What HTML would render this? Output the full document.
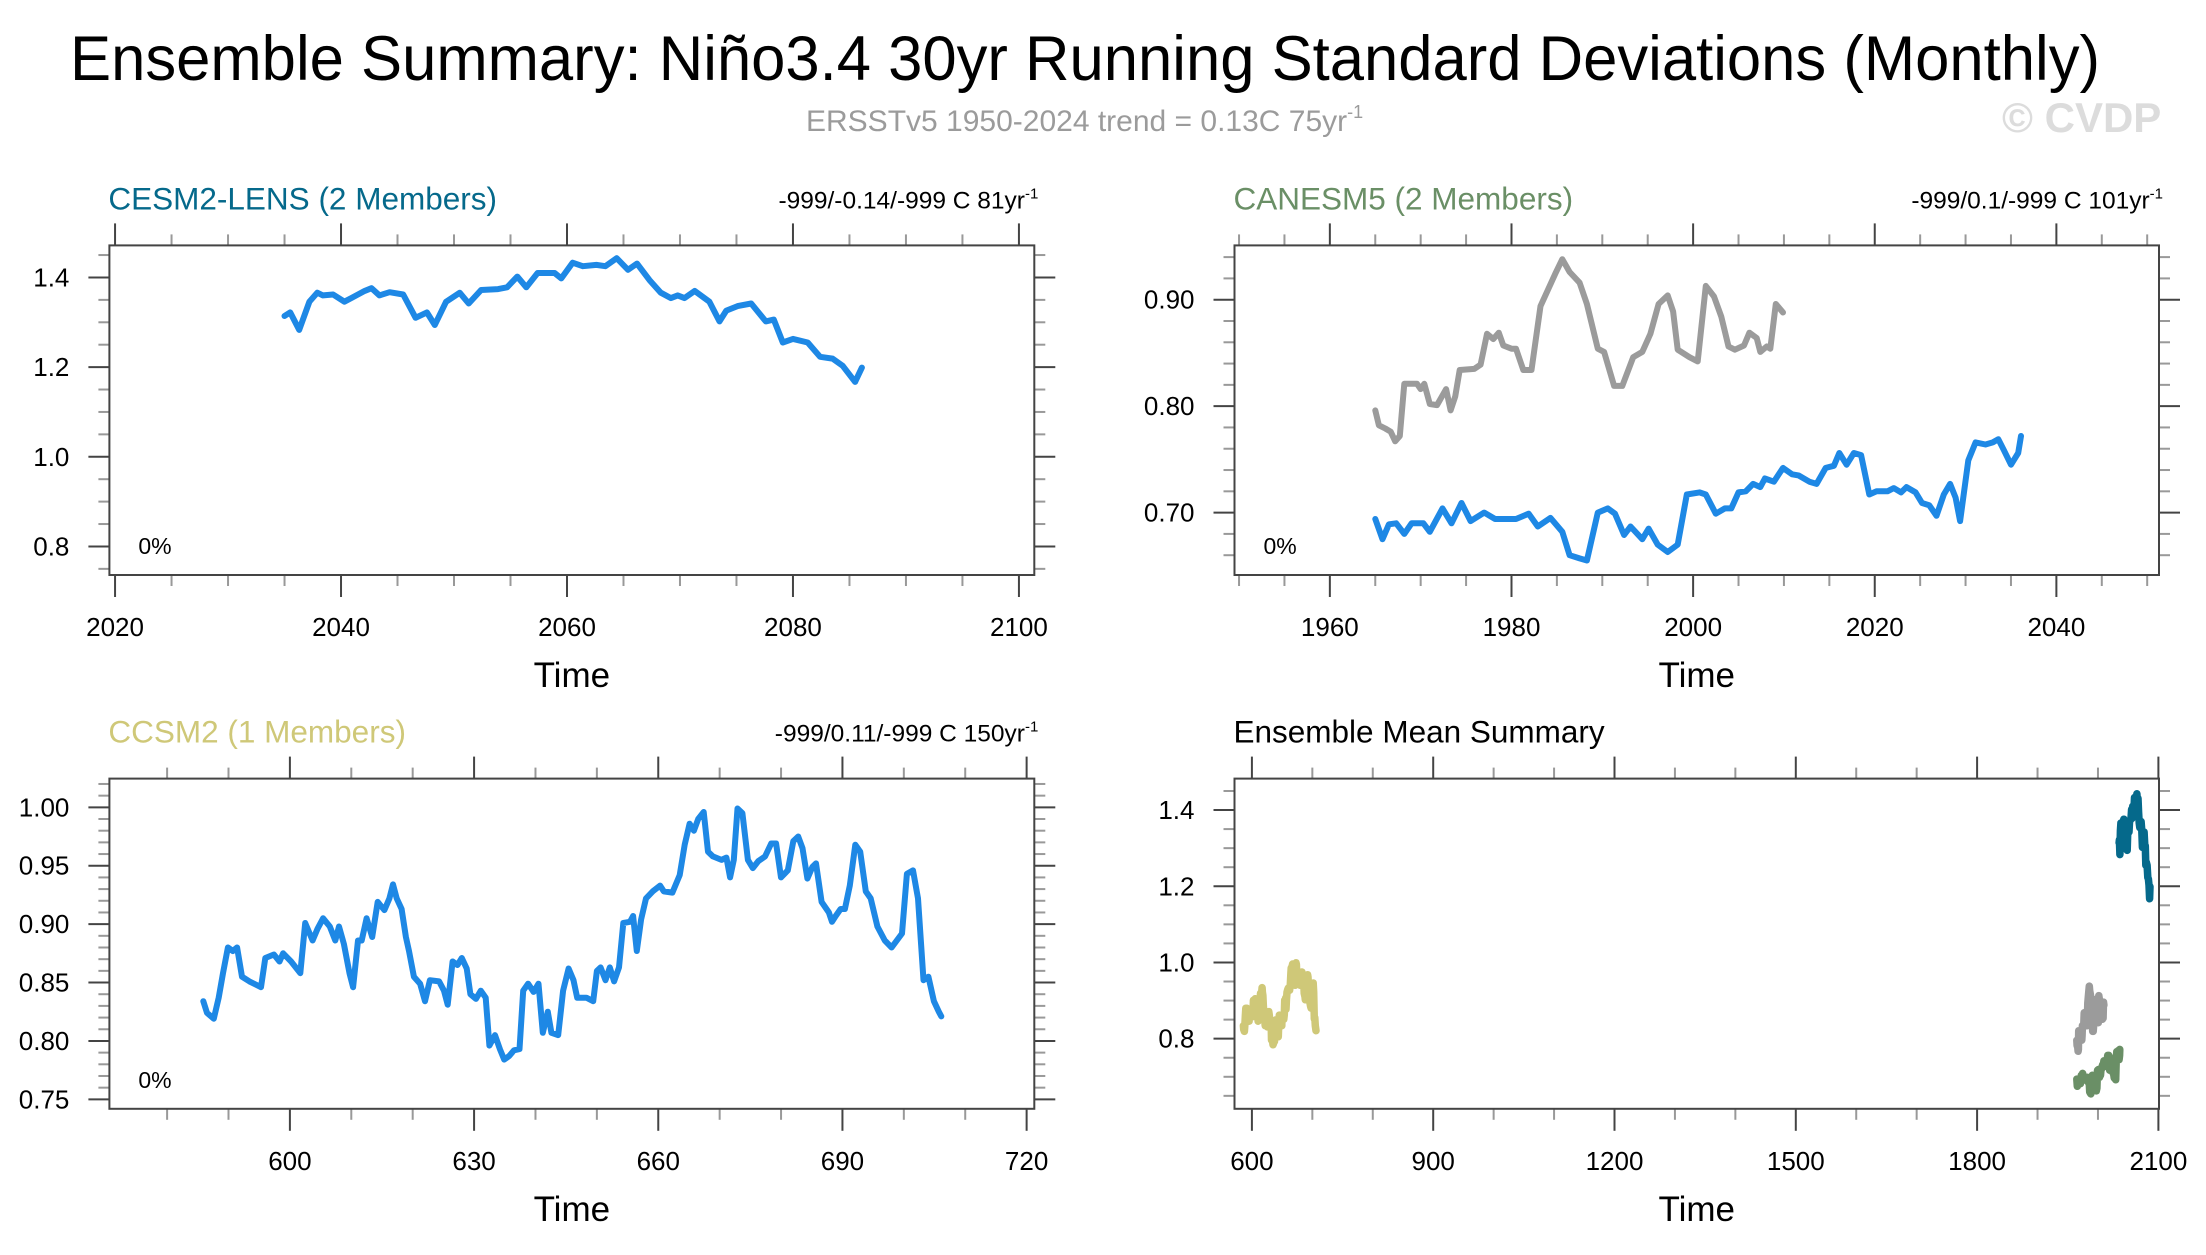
<!DOCTYPE html>
<html><head><meta charset="utf-8">
<style>
html,body{margin:0;padding:0;background:#fff;}
svg{display:block;font-family:"Liberation Sans",Arial,sans-serif;}
</style></head>
<body>
<svg id="chart" width="2206" height="1255" viewBox="0 0 2206 1255" xmlns="http://www.w3.org/2000/svg">
<text x="70" y="80" font-size="63" textLength="2030" lengthAdjust="spacingAndGlyphs" fill="#000">Ensemble Summary: Niño3.4 30yr Running Standard Deviations (Monthly)</text>
<text x="806" y="131" font-size="30" fill="#9b9b9b">ERSSTv5 1950-2024 trend = 0.13C 75yr<tspan font-size="18" dy="-13">-1</tspan></text>
<text x="2002" y="132" font-size="42" font-weight="bold" fill="#dcdcdc">© CVDP</text>
<g id="panels"></g>
</svg>
<script>
// ---- data ----
const cesmYears = [2035.0,2035.5,2036.3,2037.2,2037.9,2038.4,2039.3,2040.3,2040.9,2042.1,2042.7,2043.4,2044.3,2045.5,2046.6,2047.6,2048.3,2049.3,2050.5,2051.3,2052.4,2053.9,2054.7,2055.6,2056.4,2057.4,2058.9,2059.5,2060.5,2061.4,2062.6,2063.4,2064.4,2065.4,2066.2,2067.3,2068.3,2069.2,2069.8,2070.4,2071.3,2072.6,2073.5,2074.1,2075.1,2076.3,2077.6,2078.3,2079.1,2080.0,2081.3,2082.4,2083.5,2084.4,2085.5,2086.1];
const cesmValues = [1.314,1.322,1.283,1.346,1.366,1.36,1.362,1.346,1.354,1.37,1.376,1.36,1.367,1.362,1.31,1.322,1.294,1.346,1.366,1.342,1.372,1.374,1.378,1.402,1.378,1.41,1.41,1.398,1.433,1.425,1.428,1.425,1.443,1.417,1.431,1.394,1.366,1.354,1.36,1.354,1.37,1.346,1.302,1.326,1.336,1.342,1.302,1.306,1.255,1.263,1.255,1.223,1.219,1.203,1.167,1.199];
const obsYears = [1965.0,1965.4,1966.1,1966.7,1967.2,1967.7,1968.2,1969.6,1970.0,1970.4,1971.0,1971.8,1972.8,1973.3,1973.8,1974.3,1975.9,1976.6,1977.3,1978.0,1978.6,1979.1,1980.0,1980.5,1981.3,1982.2,1983.2,1984.0,1984.8,1985.6,1986.4,1987.5,1988.3,1989.5,1990.2,1991.3,1992.2,1993.4,1994.4,1995.3,1996.2,1997.2,1997.8,1998.3,1999.6,2000.5,2001.4,2002.3,2003.1,2003.9,2004.6,2005.6,2006.2,2007.0,2007.4,2008.1,2008.5,2009.1,2009.9];
const obsValues = [0.796,0.782,0.779,0.776,0.767,0.772,0.821,0.821,0.816,0.821,0.802,0.801,0.816,0.796,0.809,0.834,0.835,0.839,0.868,0.863,0.869,0.857,0.854,0.854,0.834,0.834,0.894,0.909,0.924,0.938,0.926,0.916,0.896,0.854,0.851,0.819,0.819,0.846,0.851,0.868,0.896,0.904,0.889,0.853,0.846,0.842,0.913,0.903,0.884,0.856,0.853,0.857,0.869,0.864,0.851,0.856,0.854,0.896,0.888];
const canYears = [1965.0,1965.8,1966.5,1967.3,1968.2,1969.0,1970.3,1971.0,1972.4,1973.4,1974.5,1975.5,1977.0,1978.2,1980.5,1981.9,1982.9,1984.3,1985.6,1986.4,1987.5,1988.3,1989.5,1990.6,1991.4,1992.4,1993.1,1994.4,1995.1,1996.1,1997.2,1998.3,1999.3,2000.7,2001.4,2002.5,2003.5,2004.2,2005.0,2005.8,2006.6,2007.4,2007.9,2008.9,2009.9,2010.9,2011.6,2012.8,2013.6,2014.6,2015.5,2016.1,2016.9,2017.7,2018.5,2019.4,2020.2,2021.4,2022.1,2022.9,2023.5,2024.5,2025.2,2026.0,2026.8,2027.6,2028.3,2028.9,2029.4,2030.3,2031.1,2032.2,2033.0,2033.6,2034.2,2035.0,2035.8,2036.1];
const canValues = [0.694,0.675,0.689,0.690,0.680,0.690,0.690,0.682,0.704,0.690,0.709,0.692,0.700,0.694,0.694,0.699,0.687,0.695,0.682,0.660,0.657,0.655,0.700,0.704,0.699,0.679,0.687,0.675,0.685,0.670,0.663,0.670,0.717,0.719,0.717,0.699,0.704,0.704,0.719,0.720,0.727,0.724,0.732,0.729,0.742,0.736,0.735,0.729,0.727,0.742,0.744,0.756,0.745,0.756,0.754,0.717,0.720,0.720,0.723,0.719,0.724,0.719,0.709,0.707,0.697,0.717,0.727,0.714,0.692,0.749,0.766,0.764,0.766,0.769,0.759,0.745,0.756,0.772];
const ccsmYears = [585.9,586.5,587.6,588.4,589.1,589.9,590.7,591.4,592.2,593.4,595.3,596.0,597.4,598.3,598.9,600.2,601.7,602.5,603.7,604.5,605.4,606.5,607.4,608.0,608.8,609.7,610.3,611.1,611.7,612.5,613.4,614.3,615.4,616.2,616.8,617.4,618.2,618.9,619.4,620.2,621.2,622.0,622.8,624.3,625.1,625.7,626.5,627.3,628.0,628.8,629.4,630.3,631.1,631.9,632.5,633.4,634.2,634.9,635.7,636.5,637.4,638.0,638.8,639.7,640.5,641.2,642.0,642.6,643.7,644.5,645.4,646.2,646.8,648.3,649.4,650.0,650.6,651.4,652.1,652.8,653.6,654.3,655.4,655.9,656.5,657.2,658.0,659.1,660.3,660.9,662.3,663.5,664.3,665.1,665.8,666.5,667.4,668.1,668.9,670.3,671.1,671.7,672.3,672.9,673.7,674.6,675.4,676.3,677.4,678.4,679.2,680.0,681.1,682.0,682.8,683.5,684.3,685.1,685.7,686.6,687.8,688.3,688.9,689.7,690.4,691.2,692.1,692.9,693.8,694.6,695.7,696.9,698.0,699.7,700.5,701.5,702.3,703.2,704.0,704.9,705.7,706.1];
const ccsmValues = [0.834,0.824,0.819,0.837,0.858,0.880,0.877,0.880,0.855,0.851,0.846,0.871,0.874,0.868,0.875,0.868,0.858,0.901,0.886,0.896,0.905,0.898,0.886,0.898,0.883,0.858,0.846,0.886,0.886,0.905,0.889,0.919,0.912,0.922,0.934,0.922,0.913,0.889,0.877,0.855,0.849,0.834,0.852,0.851,0.843,0.831,0.868,0.865,0.871,0.862,0.840,0.836,0.843,0.837,0.796,0.805,0.793,0.784,0.787,0.792,0.793,0.843,0.849,0.842,0.849,0.807,0.825,0.807,0.805,0.843,0.862,0.852,0.837,0.837,0.834,0.860,0.863,0.852,0.863,0.851,0.863,0.901,0.902,0.907,0.877,0.904,0.922,0.928,0.933,0.928,0.927,0.942,0.968,0.986,0.980,0.990,0.996,0.962,0.958,0.955,0.957,0.940,0.955,0.999,0.995,0.955,0.948,0.954,0.958,0.969,0.969,0.940,0.946,0.971,0.975,0.965,0.939,0.949,0.952,0.919,0.910,0.902,0.907,0.913,0.913,0.933,0.968,0.962,0.928,0.922,0.898,0.886,0.880,0.892,0.943,0.946,0.922,0.852,0.855,0.834,0.825,0.821];

const p1XTicks = [2020,2040,2060,2080,2100];
const p1YTicks = ["0.8","1.0","1.2","1.4"];
const p2XTicks = [1960,1980,2000,2020,2040];
const p2YTicks = ["0.70","0.80","0.90"];
const p3XTicks = [600,630,660,690,720];
const p3YTicks = ["0.75","0.80","0.85","0.90","0.95","1.00"];
const p4XTicks = [600,900,1200,1500,1800,2100];
const p4YTicks = ["0.8","1.0","1.2","1.4"];

const BLUE="#1e88e5", GRAY="#9b9b9b", TEAL="#05698b", GREEN="#6a8f66", KHAKI="#cfc878";
const NS="http://www.w3.org/2000/svg";
const root=document.getElementById('panels');
function mk(tag,attrs,parent){const e=document.createElementNS(NS,tag);for(const k in attrs)e.setAttribute(k,attrs[k]);(parent||root).appendChild(e);return e;}

const panels=[
 {name:'cesm2-lens-panel',box:[109.4,245.4,1034.3,575],xd:[2019.5,2101.36],yd:[0.7363,1.4715],xt:p1XTicks,xmin:5,yt:p1YTicks,ymin:0.05,
  title:'CESM2-LENS (2 Members)',tcol:TEAL,ann:'-999/-0.14/-999 C 81yr',pct:true,
  series:[{x:cesmYears,y:cesmValues,c:BLUE,n:'cesm2-line'}],lw:6},
 {name:'canesm5-panel',box:[1234.5,245.4,2159,575],xd:[1949.5,2051.3],yd:[0.6414,0.951],xt:p2XTicks,xmin:5,yt:p2YTicks,ymin:0.02,
  title:'CANESM5 (2 Members)',tcol:GREEN,ann:'-999/0.1/-999 C 101yr',pct:true,
  series:[{x:obsYears,y:obsValues,c:GRAY,n:'observations-line'},{x:canYears,y:canValues,c:BLUE,n:'canesm5-line'}],lw:6},
 {name:'ccsm2-panel',box:[109.4,778.6,1034.3,1108.8],xd:[570.6,721.25],yd:[0.7419,1.0246],xt:p3XTicks,xmin:10,yt:p3YTicks,ymin:0.01,
  title:'CCSM2 (1 Members)',tcol:KHAKI,ann:'-999/0.11/-999 C 150yr',pct:true,
  series:[{x:ccsmYears,y:ccsmValues,c:BLUE,n:'ccsm2-line'}],lw:6},
 {name:'ensemble-mean-panel',box:[1234.5,778.6,2159,1108.8],xd:[571.2,2101],yd:[0.616,1.4825],xt:p4XTicks,xmin:100,yt:p4YTicks,ymin:0.05,
  title:'Ensemble Mean Summary',tcol:'#000',ann:null,pct:false,
  series:[{x:ccsmYears,y:ccsmValues,c:KHAKI,n:'ccsm2-mean-line'},{x:obsYears,y:obsValues,c:GRAY,n:'observations-mean-line'},{x:canYears,y:canValues,c:GREEN,n:'canesm5-mean-line'},{x:cesmYears,y:cesmValues,c:TEAL,n:'cesm2-mean-line'}],lw:7.5}
];

panels.forEach(p=>{
  const [L,T,R,B]=p.box;
  const g=mk('g',{});
  
  
  const sx=v=>L+(v-p.xd[0])/(p.xd[1]-p.xd[0])*(R-L);
  const sy=v=>B-(v-p.yd[0])/(p.yd[1]-p.yd[0])*(B-T);
  const xs=Math.ceil(p.xd[0]/p.xmin-1e-6);
  for(let k=xs;k*p.xmin<=p.xd[1]+1e-6;k++){
    const v=k*p.xmin, X=sx(v);
    const maj=p.xt.some(t=>Math.abs(t-v)<1e-6);
    const len=maj?22:11;
    const col=maj?'#444':'#999';
    const t1=mk('line',{x1:X,x2:X,y1:T,y2:T-len,stroke:col,'stroke-width':2},g);
    
    
    const t2=mk('line',{x1:X,x2:X,y1:B,y2:B+len,stroke:col,'stroke-width':2},g);
    
    
  }
  const ys=Math.ceil(p.yd[0]/p.ymin-1e-6);
  for(let k=ys;k*p.ymin<=p.yd[1]+1e-6;k++){
    const v=k*p.ymin, Y=sy(v);
    const maj=p.yt.some(t=>Math.abs(parseFloat(t)-v)<1e-6);
    const len=maj?21:11;
    const col=maj?'#444':'#999';
    const t1=mk('line',{x1:L,x2:L-len,y1:Y,y2:Y,stroke:col,'stroke-width':2},g);
    
    
    const t2=mk('line',{x1:R,x2:R+len,y1:Y,y2:Y,stroke:col,'stroke-width':2},g);
    
    
  }
  p.xt.forEach(t=>{
    const tx=mk('text',{x:sx(t),y:B+61,'font-size':26,'text-anchor':'middle',fill:'#000'},g);
    
    
    tx.textContent=t;
  });
  p.yt.forEach(t=>{
    const tx=mk('text',{x:L-40,y:sy(parseFloat(t))+9,'font-size':26,'text-anchor':'end',fill:'#000'},g);
    
    
    tx.textContent=t;
  });
  const clipId='clip-'+p.name;
  const cp=mk('clipPath',{id:clipId},g);
  mk('rect',{x:L,y:T,width:R-L,height:B-T},cp);
  const lg=mk('g',{'clip-path':'url(#'+clipId+')'},g);
  p.series.forEach(s=>{
    const d=s.x.map((x,i)=>(i?'L':'M')+sx(x).toFixed(1)+','+sy(s.y[i]).toFixed(1)).join('');
    const pa=mk('path',{d:d,fill:'none',stroke:s.c,'stroke-width':p.lw,'stroke-linejoin':'round','stroke-linecap':'round'},lg);
    
    
  });
  const frame=mk('rect',{x:L,y:T,width:R-L,height:B-T,fill:'none',stroke:'#444','stroke-width':2},g);
  
  
  const tt=mk('text',{x:L-1,y:T-36,'font-size':31.5,fill:p.tcol},g);
  
  
  tt.textContent=p.title;
  if(p.ann){
    const an=mk('text',{x:R+4,y:T-37,'font-size':24.5,'text-anchor':'end',fill:'#000'},g);
    
    
    an.textContent=p.ann;
    const sup=mk('tspan',{'font-size':15,dy:-10},an);
    sup.textContent='-1';
  }
  if(p.pct){
    const pc=mk('text',{x:L+29,y:B-21,'font-size':23,fill:'#000'},g);
    
    
    pc.textContent='0%';
  }
  const xt=mk('text',{x:(L+R)/2,y:B+112,'font-size':35,'text-anchor':'middle',fill:'#000'},g);
  
  
  xt.textContent='Time';
});
</script>
</body></html>
